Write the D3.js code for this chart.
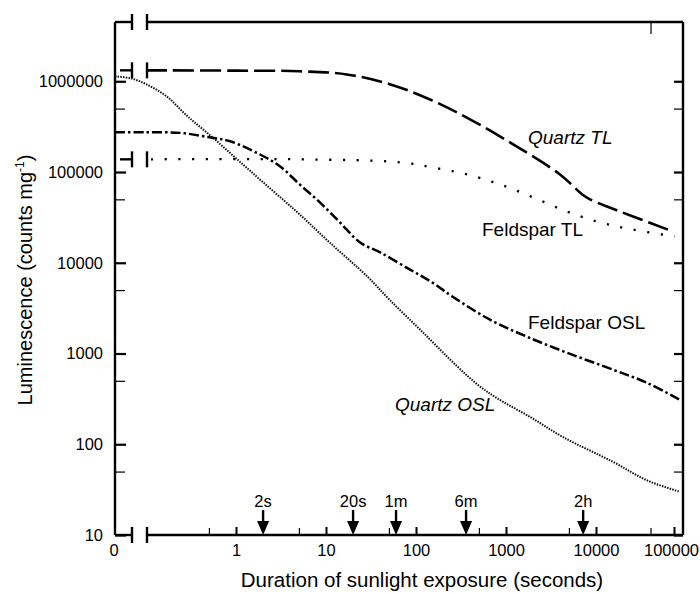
<!DOCTYPE html>
<html>
<head>
<meta charset="utf-8">
<script src="https://cdn.jsdelivr.net/npm/d3@7"></script>
<style>
  body { margin: 0; background: #fff; }
  svg { display: block; }
  text { font-family: "Liberation Sans", Arial, sans-serif; fill: #000; }
</style>
</head>
<body>
<svg id="chart" width="700" height="594"></svg>
<script>
// Bleaching of luminescence signals with sunlight exposure (seconds, counts per mg)
const quartzTlTime = [0, 0.1, 1, 5, 17, 51, 143, 398, 1200, 3980, 6990, 8580, 13800, 29800, 97000];
const quartzTlCounts = [1.32e6, 1.32e6, 1.31e6, 1.29e6, 1.19e6, 9.3e5, 6.3e5, 3.81e5, 2.02e5, 9.4e4, 5.7e4, 5.0e4, 4.17e4, 3.24e4, 2.21e4];

const feldsparTlTime = [0, 0.1, 5, 66, 155, 369, 858, 2000, 4760, 11260, 29800, 103000];
const feldsparTlCounts = [1.38e5, 1.38e5, 1.38e5, 1.28e5, 1.12e5, 9.4e4, 7.3e4, 5.25e4, 3.67e4, 2.78e4, 2.32e4, 1.95e4];

const feldsparOslTime = [0, 0.1, 0.24, 0.51, 0.86, 1.85, 3.1, 5.1, 8.6, 14.3, 24, 40, 86, 154, 258, 664, 1710, 4760, 16500, 45000, 119000];
const feldsparOslCounts = [2.74e5, 2.74e5, 2.7e5, 2.41e5, 2.18e5, 1.56e5, 1.15e5, 7.3e4, 4.6e4, 2.78e4, 1.67e4, 1.3e4, 8.4e3, 6.0e3, 4.2e3, 2.36e3, 1.53e3, 1.02e3, 663, 476, 309];

const quartzOslTime = [0, 0.05, 0.1, 0.17, 0.29, 0.55, 1.03, 2.0, 4.8, 11, 29, 51, 120, 290, 500, 815, 1850, 4300, 16500, 45000, 119000];
const quartzOslCounts = [1.13e6, 1.08e6, 9.3e5, 6.8e5, 4.1e5, 2.4e5, 1.38e5, 7.7e4, 3.6e4, 1.67e4, 7.0e3, 3.9e3, 1.7e3, 714, 442, 317, 200, 120, 64, 40, 30];

const markerTimes = [2, 20, 60, 360, 7200];
const markerLabels = ["2s", "20s", "1m", "6m", "2h"];

const xMajorTicks = [1, 10, 100, 1000, 10000, 100000];
const xMajorLabels = ["1", "10", "100", "1000", "10000", "100000"];
const xMinorTicks = [0.5, 5, 50, 500, 5000, 50000];
const yMajorTicks = [10, 100, 1000, 10000, 100000, 1000000];
const yMajorLabels = ["10", "100", "1000", "10000", "100000", "1000000"];
const yMinorTicks = [50, 500, 5000, 50000, 500000];

const svg = d3.select("#chart");
const plotL = 115, plotR = 683, plotT = 22, plotB = 535;
const breakL = 132, breakR = 147;
const FONT = '"Liberation Sans", Arial, sans-serif';

// y: logarithmic counts
const y = d3.scaleLog().domain([10, 4.5e6]).range([plotB, plotT]);
// x: a short linear stretch for t = 0, then a broken-axis log scale
const xZero = d3.scaleLinear().domain([0, 0.1]).range([plotL, 146]);
const xLog = d3.scaleLog().domain([0.1, 1e4, 1e5]).range([146, 596, 674]);
const xPos = t => (t < 0.1 ? xZero(t) : xLog(t));

const zip = (ts, vs) => ts.map((t, i) => ({ t, v: vs[i] }));
const line = d3.line().x(d => xPos(d.t)).y(d => y(d.v)).curve(d3.curveCatmullRom.alpha(0.5));

// ---- ticks ----
function styleAxis(g, width) {
  g.select(".domain").remove();
  g.selectAll(".tick line").attr("stroke", "#000").attr("stroke-width", width);
  g.selectAll("text").attr("font-family", FONT).attr("font-size", 16.5).attr("fill", "#000");
}
svg.append("g").attr("transform", `translate(0,${plotB})`)
  .call(d3.axisBottom(xLog).tickValues(xMajorTicks).tickFormat((d, i) => xMajorLabels[i]).tickSize(-8).tickPadding(9))
  .call(g => styleAxis(g, 2))
  // the last label sits against the right edge; nudge it inward
  .call(g => g.selectAll(".tick text").filter(d => d === 100000).attr("dx", -3));
svg.append("g").attr("transform", `translate(0,${plotB})`)
  .call(d3.axisBottom(xLog).tickValues(xMinorTicks).tickFormat("").tickSize(-7))
  .call(g => styleAxis(g, 1.2));
svg.append("text").attr("x", xZero(0) - 1).attr("y", plotB + 9).attr("dy", "0.71em")
  .attr("text-anchor", "middle").attr("font-size", 16.5).text("0");
svg.append("g").attr("transform", `translate(0,${plotT})`)
  .call(d3.axisTop(xLog).tickValues([50000]).tickFormat("").tickSize(-12))
  .call(g => styleAxis(g, 1.2));

svg.append("g").attr("transform", `translate(${plotL},0)`)
  .call(d3.axisLeft(y).tickValues(yMajorTicks).tickFormat((d, i) => yMajorLabels[i]).tickSize(-11).tickPadding(12))
  .call(g => styleAxis(g, 2.2));
svg.append("g").attr("transform", `translate(${plotL},0)`)
  .call(d3.axisLeft(y).tickValues(yMinorTicks).tickFormat("").tickSize(-10))
  .call(g => styleAxis(g, 1.2));
svg.append("g").attr("transform", `translate(${plotR},0)`)
  .call(d3.axisRight(y).tickValues(yMajorTicks).tickFormat("").tickSize(-9))
  .call(g => styleAxis(g, 2.2));
svg.append("g").attr("transform", `translate(${plotR},0)`)
  .call(d3.axisRight(y).tickValues(yMinorTicks).tickFormat("").tickSize(-9))
  .call(g => styleAxis(g, 1.2));

// ---- frame with axis breaks ----
const frame = svg.append("g").attr("stroke", "#000").attr("stroke-width", 2.4).attr("fill", "none");
frame.append("line").attr("x1", plotL).attr("x2", plotL).attr("y1", plotT).attr("y2", plotB);
frame.append("line").attr("x1", plotR).attr("x2", plotR).attr("y1", plotT).attr("y2", plotB);
[plotT, plotB].forEach(yy => {
  frame.append("line").attr("x1", plotL).attr("x2", breakL).attr("y1", yy).attr("y2", yy);
  frame.append("line").attr("x1", breakR).attr("x2", plotR).attr("y1", yy).attr("y2", yy);
});
function breakMarks(yy) {
  [breakL, breakR].forEach(xx => {
    frame.append("line").attr("x1", xx).attr("x2", xx).attr("y1", yy - 8).attr("y2", yy + 8);
  });
}
breakMarks(plotT);
breakMarks(plotB);

// ---- curves ----
const curves = svg.append("g").attr("fill", "none").attr("stroke", "#000");

// TL curves: a stub at t = 0, break marks, then the bleaching curve
function tlCurve(ts, vs, dash, width) {
  const pts = zip(ts, vs);
  const y0 = y(pts[0].v);
  curves.append("line").attr("x1", plotL + 5).attr("x2", breakL).attr("y1", y0).attr("y2", y0)
    .attr("stroke-width", 2.4);
  [breakL, breakR].forEach(xx => {
    curves.append("line").attr("x1", xx).attr("x2", xx).attr("y1", y0 - 8).attr("y2", y0 + 8)
      .attr("stroke-width", 2.4);
  });
  curves.append("path").attr("d", line(pts.filter(d => d.t >= 0.1)))
    .attr("stroke-width", width).attr("stroke-dasharray", dash);
}
tlCurve(quartzTlTime, quartzTlCounts, "21,6", 2.6);
tlCurve(feldsparTlTime, feldsparTlCounts, "0,5,2.2,6.5", 2.3);

curves.append("path").attr("d", line(zip(feldsparOslTime, feldsparOslCounts)))
  .attr("stroke-width", 2.5).attr("stroke-dasharray", "10,3,2.5,3");
curves.append("path").attr("d", line(zip(quartzOslTime, quartzOslCounts)))
  .attr("stroke", "#111").attr("stroke-width", 2).attr("stroke-dasharray", "1.5,1.2");

// ---- curve labels ----
const labels = [
  { text: "Quartz TL", x: 528, y: 144, italic: true },
  { text: "Feldspar TL", x: 482, y: 236, italic: false },
  { text: "Feldspar OSL", x: 528, y: 329, italic: false },
  { text: "Quartz OSL", x: 395, y: 411, italic: true }
];
svg.append("g").selectAll("text").data(labels).join("text")
  .attr("x", d => d.x).attr("y", d => d.y).attr("font-size", 19)
  .attr("font-style", d => (d.italic ? "italic" : "normal")).text(d => d.text);

// ---- exposure markers ----
const markers = svg.append("g");
markerTimes.forEach((t, i) => {
  const xx = xPos(t);
  markers.append("line").attr("x1", xx).attr("x2", xx).attr("y1", plotB - 25).attr("y2", plotB - 12)
    .attr("stroke", "#000").attr("stroke-width", 2.4);
  markers.append("path")
    .attr("d", `M${xx - 6},${plotB - 14}L${xx + 6},${plotB - 14}L${xx},${plotB}Z`)
    .attr("fill", "#000");
  markers.append("text").attr("x", xx).attr("y", plotB - 28).attr("text-anchor", "middle")
    .attr("font-size", 16.5).text(markerLabels[i]);
});

// ---- axis titles ----
svg.append("text").attr("x", 422).attr("y", 587).attr("text-anchor", "middle").attr("font-size", 20.5)
  .text("Duration of sunlight exposure (seconds)");
const yTitle = svg.append("text").attr("transform", "translate(32,280) rotate(-90)")
  .attr("text-anchor", "middle").attr("font-size", 20);
yTitle.append("tspan").text("Luminescence (counts mg");
yTitle.append("tspan").attr("font-size", 12).attr("dy", -8).text("-1");
yTitle.append("tspan").attr("dy", 8).text(")");
</script>
</body>
</html>
